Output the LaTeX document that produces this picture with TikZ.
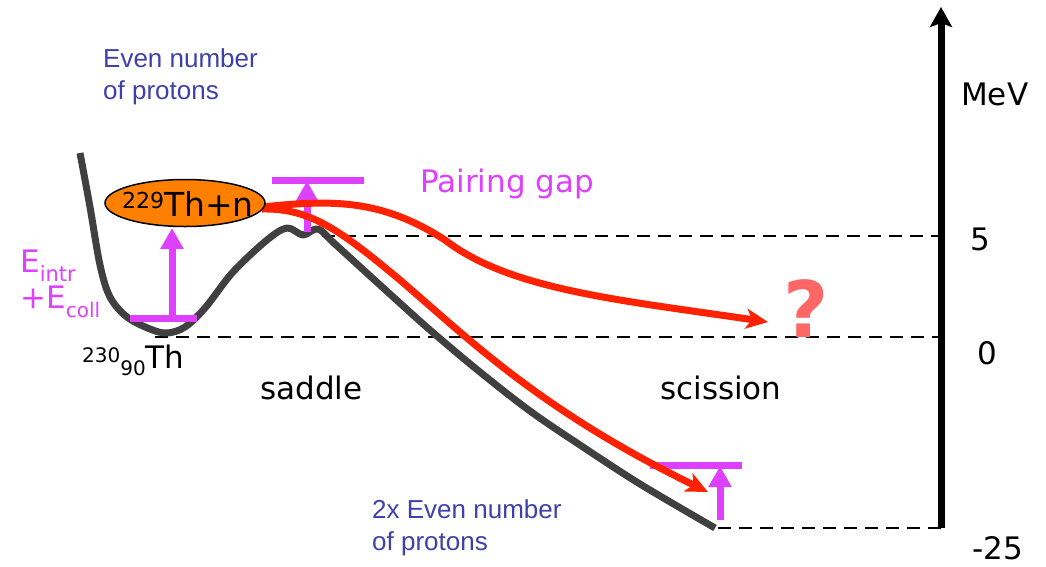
\documentclass[tikz,border=0pt]{standalone}
\usepackage{fontspec}
\setmainfont{DejaVu Sans}
\newfontfamily\arialf{Liberation Sans}
\usetikzlibrary{arrows.meta,shapes.geometric}
\definecolor{magc}{RGB}{221,64,255}
\definecolor{redc}{RGB}{255,34,0}
\definecolor{grayc}{RGB}{64,64,64}
\definecolor{orangec}{RGB}{255,128,0}
\definecolor{bluec}{RGB}{64,64,170}
\definecolor{coralc}{RGB}{255,102,102}
\begin{document}
\begin{tikzpicture}[x=1pt,y=-1pt,
  lbl/.style={font=\fontsize{31}{31}\selectfont, inner sep=0pt, anchor=base west},
  bluetxt/.style={font=\arialf\fontsize{26}{32}\selectfont, text=bluec, inner sep=0pt, anchor=base west, align=left},
  dashline/.style={draw=black, line width=2.2pt, dash pattern=on 13pt off 8pt},
  pes/.style={draw=grayc, line width=7pt, line join=round},
  redpath/.style={draw=redc, line width=7pt, -{Stealth[length=22pt,width=20pt,inset=6pt]}},
  magbar/.style={draw=magc, line width=7pt},
  magarrow/.style={draw=magc, fill=magc, line width=7pt, -{Triangle[length=21pt,width=22pt]}},
  axisline/.style={draw=black, line width=7pt, -{Stealth[length=20pt,width=22pt,inset=4pt]}}
]
\useasboundingbox (0,0) rectangle (1046,566);

% reference points
\coordinate (d5s) at (322,236);
\coordinate (d5e) at (941,236);
\coordinate (d0s) at (155,337);
\coordinate (d0e) at (941,337);
\coordinate (dbs) at (718,528);
\coordinate (dbe) at (941,528);
\coordinate (axb) at (941,528);
\coordinate (axt) at (941,7);

% dashed levels
\draw[dashline] (d5s) -- (d5e);
\draw[dashline] (d0s) -- (d0e);
\draw[dashline] (dbs) -- (dbe);

% energy axis
\draw[axisline] (axb) -- (axt);

% potential energy curve
\draw[pes] plot[smooth, tension=0.55] coordinates {
  (80,153) (90,207) (100,265) (110,297) (127,317) (150,329) (167,333)
  (185,327) (205,308) (233,272) (267,240) (287,228) (303,235) (318,229)
  (335,244) (380,285) (430,330) (480,372) (530,411) (580,445) (640,484) (715,528)};

% magenta bars and arrows
\coordinate (b1l) at (130,318); \coordinate (b1r) at (197,318);
\coordinate (a1s) at (172,318); \coordinate (a1e) at (172,228);
\coordinate (b2l) at (272,180); \coordinate (b2r) at (364,180);
\coordinate (a2s) at (307,232); \coordinate (a2e) at (307,181);
\coordinate (b3l) at (650,465); \coordinate (b3r) at (742,465);
\coordinate (a3s) at (720,520); \coordinate (a3e) at (720,466);
\draw[magbar] (b1l) -- (b1r);
\draw[magarrow] (a1s) -- (a1e);
\draw[magbar] (b2l) -- (b2r);
\draw[magarrow] (a2s) -- (a2e);
\draw[magbar] (b3l) -- (b3r);
\draw[magarrow] (a3s) -- (a3e);

% red paths
\coordinate (rs1) at (262,207);
\coordinate (rm1) at (445,240);
\coordinate (re1) at (768,322);
\coordinate (rs2) at (262,209);
\coordinate (rm2) at (400,280);
\coordinate (re2) at (708,492);
\draw[redpath] (rs1) .. controls (330,200) and (380,198) .. (rm1)
  .. controls (510,290) and (620,300) .. (re1);
\draw[redpath] (rs2) .. controls (310,208) and (340,230) .. (rm2)
  .. controls (470,340) and (540,410) .. (re2);

% ellipse
\node[ellipse, draw=black, line width=1.5pt, fill=orangec, minimum width=160pt,
  minimum height=47pt, inner sep=0pt] (th229) at (185,203) {};
\node[inner sep=0pt, anchor=base west, font=\fontsize{33}{33}\selectfont] (th229t) at (122,216)
  {\raisebox{8pt}{\fontsize{22}{22}\selectfont 229}Th+n};

% texts
\node[bluetxt] (even1) at (103,99) {Even number\\of protons};
\node[bluetxt] (even2) at (372,550) {2x Even number\\of protons};
\node[lbl, text=magc] (eintr) at (20,272)
  {E\raisebox{-0.3em}{\fontsize{21}{21}\selectfont intr}};
\node[lbl, text=magc] (ecoll) at (20,308)
  {+E\raisebox{-0.3em}{\fontsize{20}{20}\selectfont coll}};
\node[lbl, text=magc] (pair) at (420,192) {Pairing gap};
\node[lbl] (th230) at (82,368)
  {\raisebox{6pt}{\fontsize{20}{20}\selectfont 230}\raisebox{-7pt}{\fontsize{20}{20}\selectfont 90}Th};
\node[lbl] (saddle) at (260,399) {saddle};
\node[lbl] (sciss) at (660,399) {scission};
\node[lbl] (mev) at (961,105) {MeV};
\node[lbl] (five) at (970,250) {5};
\node[lbl] (zero) at (977,364) {0};
\node[lbl] (m25) at (972,559) {-25};
\node[inner sep=0pt, anchor=base, text=coralc,
  font=\bfseries\fontsize{78}{78}\selectfont] (qm) at (806,337) {?};
\end{tikzpicture}
\end{document}
